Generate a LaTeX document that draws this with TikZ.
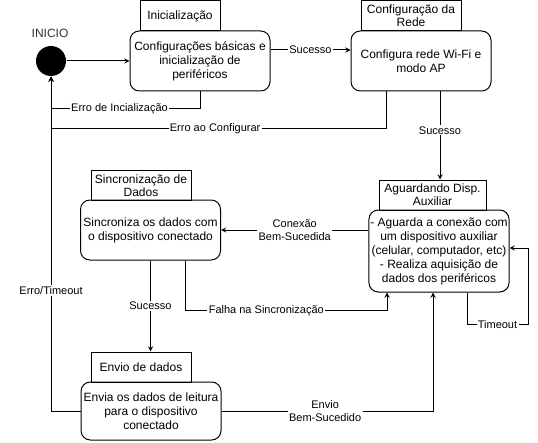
\documentclass[tikz,border=0pt]{standalone}
\usepackage{fontspec}
\setmainfont{Liberation Sans}
\begin{document}
\begin{tikzpicture}[x=0.75pt, y=-0.75pt, line width=0.75pt]
    % estilos
    \tikzstyle{estado}=[draw, rounded corners=7pt, align=center, inner sep=1pt, minimum width=105pt, font=\fontsize{9pt}{10.5pt}\selectfont]
    \tikzstyle{titulo}=[draw, align=center, inner sep=0.5pt, minimum height=22.5pt, font=\fontsize{9pt}{10pt}\selectfont]
    \tikzstyle{rotulo}=[fill=white, align=center, inner sep=1pt, font=\fontsize{8.25pt}{10pt}\selectfont]
    \tikzstyle{seta}=[->, >=stealth]

    \useasboundingbox (0,0) rectangle (538,442);

    % 1. estado inicial
    \node[circle, fill=black, minimum size=22.5pt, inner sep=0pt] (inicio) at (51,61) {};
    \node[font=\fontsize{9pt}{10.5pt}\selectfont, text=black!80] (inicioTxt) at (50,33) {INICIO};

    % 2. estados (titulo + caixa)
    \node[titulo, minimum width=60pt] (iniTit) at (180,16) {Inicialização};
    \node[estado, minimum height=45pt] (ini) at (200,61) {Configurações básicas e\\inicialização de\\periféricos};

    \node[titulo, minimum width=75pt] (redeTit) at (411,16) {Configuração da\\Rede};
    \node[estado, minimum height=45pt] (rede) at (421,61) {Configura rede Wi-Fi e\\modo AP};

    \node[titulo, minimum width=80.25pt] (aguTit) at (432.5,195) {Aguardando Disp.\\Auxiliar};
    \node[estado, minimum height=61.5pt] (agu) at (439,251) {- Aguarda a conexão com\\um dispositivo auxiliar\\(celular, computador, etc)\\- Realiza aquisição de\\dados dos periféricos};

    \node[titulo, minimum width=75pt] (sincTit) at (141,185.5) {Sincronização de\\Dados};
    \node[estado, minimum height=45pt] (sinc) at (150.5,230) {Sincroniza os dados com\\o dispositivo conectado};

    \node[titulo, minimum width=75pt] (envTit) at (141,367) {Envio de dados};
    \node[estado, minimum height=43.5pt] (env) at (151,411) {Envia os dados de leitura\\para o dispositivo\\conectado};

    % 3. pontos auxiliares das ligacoes
    \coordinate (sucA) at ([xshift=14.25pt]rede.south);
    \coordinate (falhaA) at ([xshift=26.5pt]sinc.south);
    \coordinate (falhaB) at ([xshift=-39pt]agu.south);
    \coordinate (envioB) at ([xshift=-4.5pt]agu.south);
    \coordinate (tA) at ([xshift=21pt]agu.south);
    \coordinate (tB) at ([yshift=2.25pt]agu.east);

    % 4. transicoes
    \draw[seta] (inicio.east) -- (ini.west);
    \draw[seta] ([yshift=8.25pt]ini.east) -- node[rotulo] {Sucesso} ([yshift=8.25pt]rede.west);
    \draw[seta] (ini.south) -- ++(0,17) -| node[rotulo, pos=0.27] {Erro de Incialização} (inicio.south);
    \draw[seta] ([xshift=-26.25pt]rede.south) -- ++(0,37) -| node[rotulo, pos=0.255] {Erro ao Configurar} (inicio.south);
    \draw[seta] (sucA) -- node[rotulo, pos=0.44] {Sucesso} (sucA |- aguTit.north);
    \draw[seta] (agu.west |- sinc.east) -- node[rotulo] {Conexão\\Bem-Sucedida} (sinc.east);
    \draw[seta] (tA) |- node[rotulo, pos=0.75] {Timeout} ++(61,32) |- (tB);
    \draw[seta] (sinc.south) -- node[rotulo] {Sucesso} (sinc.south |- envTit.north);
    \draw[seta] (falhaA) -- ++(0,50) -| node[rotulo, pos=0.2] {Falha na Sincronização} (falhaB);
    \draw[seta] (env.east) -| node[rotulo, pos=0.245] {Envio\\Bem-Sucedido} (envioB);
    \draw[seta] (env.west) -| node[rotulo, pos=0.68] {Erro/Timeout} (inicio.south);

\end{tikzpicture}
\end{document}
